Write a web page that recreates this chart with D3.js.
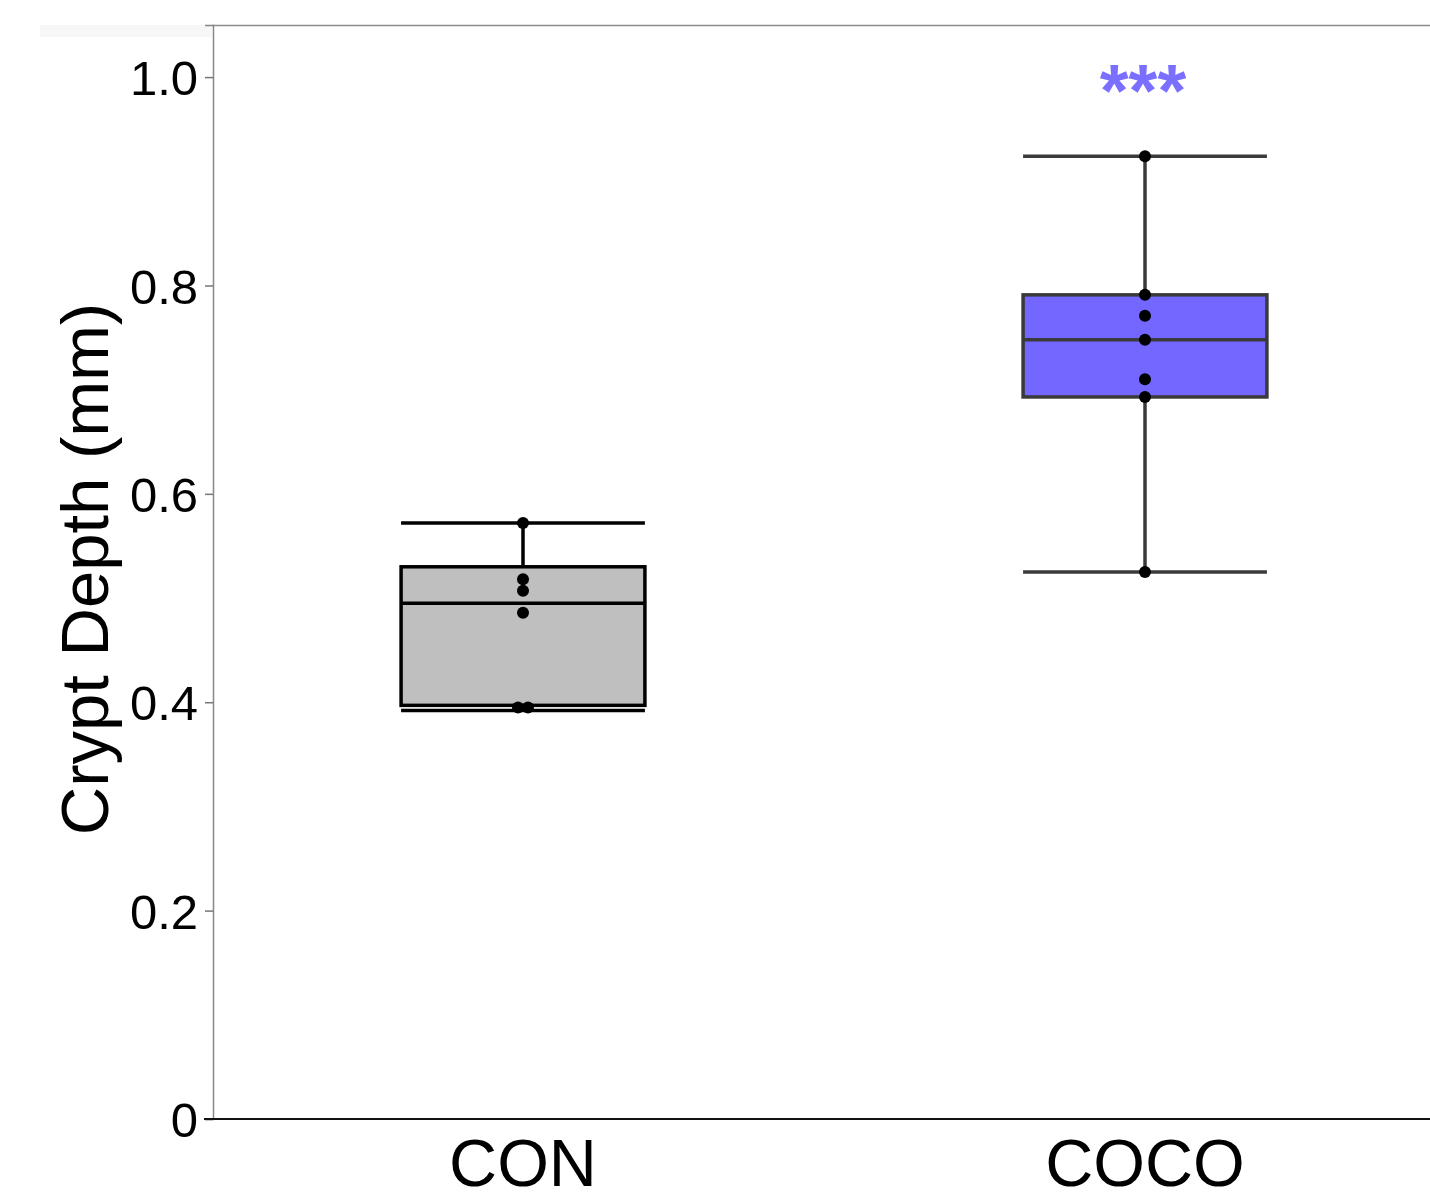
<!DOCTYPE html>
<html>
<head>
<meta charset="utf-8">
<script src="https://cdn.jsdelivr.net/npm/d3@7"></script>
<style>
  body { margin: 0; background: #fff; }
  text { font-family: "Liberation Sans", Arial, Helvetica, sans-serif; }
</style>
</head>
<body>
<div id="chart"></div>
<script>
// groups and summary stats
const groups = ["CON", "COCO"];
const whiskerLow = [0.392, 0.525];
const q1 = [0.397, 0.693];
const median = [0.495, 0.748];
const q3 = [0.530, 0.791];
const whiskerHigh = [0.572, 0.924];

// individual observations per group
const conPoints = [0.572, 0.518, 0.507, 0.486, 0.395, 0.395];
const cocoPoints = [0.924, 0.791, 0.771, 0.748, 0.710, 0.693, 0.525];

const fills = ["#bfbfbf", "#7367ff"];
const strokes = ["#000", "#3a3a3a"];
const yTicks = [0, 0.2, 0.4, 0.6, 0.8, 1.0];

const width = 1430;
const height = 1203;
const plotLeft = 212, plotTop = 25, plotBottom = 1119;

const svg = d3.select("#chart")
  .append("svg")
  .attr("width", width)
  .attr("height", height);

const x = d3.scalePoint()
  .domain(groups)
  .range([plotLeft, 1456])
  .padding(0.5);

const y = d3.scaleLinear()
  .domain([0, 1.05])
  .range([plotBottom, plotTop]);

const boxW = x.step() * 0.392;

// light band at the top left
svg.append("rect")
  .attr("x", 40).attr("y", plotTop)
  .attr("width", plotLeft - 40).attr("height", 12)
  .attr("fill", "#f7f7f7");

// top border
svg.append("line")
  .attr("x1", plotLeft).attr("x2", width)
  .attr("y1", plotTop + 0.5).attr("y2", plotTop + 0.5)
  .attr("stroke", "#8c8c8c").attr("stroke-width", 1.5);

// y axis
const yAxis = svg.append("g")
  .attr("transform", `translate(${plotLeft + 1},0)`)
  .call(d3.axisLeft(y)
    .tickValues(yTicks)
    .tickSize(8)
    .tickPadding(7)
    .tickFormat(d => d === 0 ? "0" : d3.format(".1f")(d)));
yAxis.select(".domain").attr("stroke", "#888").attr("stroke-width", 1.5);
yAxis.selectAll(".tick line").attr("stroke", "#777").attr("stroke-width", 1.5);
yAxis.selectAll(".tick text")
  .attr("font-size", 49)
  .attr("fill", "#000")
  .attr("dy", "0.36em");

// x axis baseline
svg.append("line")
  .attr("x1", plotLeft - 8).attr("x2", width)
  .attr("y1", plotBottom).attr("y2", plotBottom)
  .attr("stroke", "#111").attr("stroke-width", 2);

svg.selectAll(".xlab")
  .data(groups)
  .enter().append("text")
  .attr("class", "xlab")
  .attr("x", d => x(d))
  .attr("y", 1186)
  .attr("text-anchor", "middle")
  .attr("font-size", 66.5)
  .attr("fill", "#000")
  .text(d => d);

// y title
svg.append("text")
  .attr("transform", `translate(108,${569}) rotate(-90)`)
  .attr("text-anchor", "middle")
  .attr("font-size", 67)
  .attr("fill", "#000")
  .text("Crypt Depth (mm)");

// boxes
groups.forEach((g, i) => {
  const cx = x(g);
  const grp = svg.append("g");
  const sw = 3.5;

  grp.append("line")
    .attr("x1", cx).attr("x2", cx)
    .attr("y1", y(whiskerLow[i])).attr("y2", y(whiskerHigh[i]))
    .attr("stroke", strokes[i]).attr("stroke-width", sw);

  [whiskerLow[i], whiskerHigh[i]].forEach(v => {
    grp.append("line")
      .attr("x1", cx - boxW / 2).attr("x2", cx + boxW / 2)
      .attr("y1", y(v)).attr("y2", y(v))
      .attr("stroke", strokes[i]).attr("stroke-width", sw);
  });

  grp.append("rect")
    .attr("x", cx - boxW / 2)
    .attr("y", y(q3[i]))
    .attr("width", boxW)
    .attr("height", y(q1[i]) - y(q3[i]))
    .attr("fill", fills[i])
    .attr("stroke", strokes[i])
    .attr("stroke-width", sw);

  grp.append("line")
    .attr("x1", cx - boxW / 2).attr("x2", cx + boxW / 2)
    .attr("y1", y(median[i])).attr("y2", y(median[i]))
    .attr("stroke", strokes[i]).attr("stroke-width", sw);
});

// points, dodging equal values side by side
[conPoints, cocoPoints].forEach((pts, i) => {
  const counts = d3.rollup(pts, v => v.length, d => d);
  const seen = new Map();
  const placed = pts.map(v => {
    const k = seen.get(v) || 0;
    seen.set(v, k + 1);
    const n = counts.get(v);
    return { v, off: (k - (n - 1) / 2) * 10 };
  });
  svg.append("g")
    .selectAll("circle")
    .data(placed)
    .enter().append("circle")
    .attr("cx", d => x(groups[i]) + d.off)
    .attr("cy", d => y(d.v))
    .attr("r", 6)
    .attr("fill", "#000");
});

// significance marker
svg.append("text")
  .attr("x", x("COCO") - 2)
  .attr("y", 116)
  .attr("text-anchor", "middle")
  .attr("font-size", 74)
  .attr("font-weight", "bold")
  .attr("fill", "#7b6fff")
  .text("***");
</script>
</body>
</html>
